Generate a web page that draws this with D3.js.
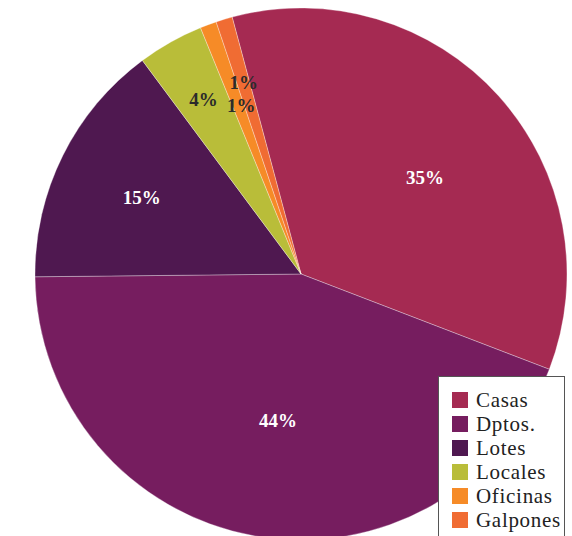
<!DOCTYPE html>
<html><head><meta charset="utf-8">
<script src="https://cdn.jsdelivr.net/npm/d3@7"></script>
<style>html,body{margin:0;padding:0;background:#fff;}svg{display:block;}</style>
</head><body>
<script>
const categories = ["Casas","Dptos.","Lotes","Locales","Oficinas","Galpones"];
const values = [35, 44, 15, 4, 1, 1];
const labels = ["35%","44%","15%","4%","1%","1%"];
const colors = ["#a52a52","#761d5f","#4f1850","#b9bd39","#f68b27","#f06c33"];
const labelColors = ["#fff","#fff","#fff","#2b2b2b","#2b2b2b","#2b2b2b"];

// layout (not data): label radius fraction and angle nudge (deg)
const labelLayout = [[0.59, 4.2],[0.557,-1.3],[0.664,-0.7],[0.752,0.2],[0.671,0.8],[0.752,0.2]];

const W = 572, H = 536, cx = 301, cy = 274, R = 266;
const svg = d3.select("body").append("svg").attr("width", W).attr("height", H);
const g = svg.append("g").attr("transform", `translate(${cx},${cy})`);

const start = -15 * Math.PI / 180;
const pie = d3.pie().sort(null).startAngle(start).endAngle(start + 2*Math.PI);
const arcs = pie(values);
const arc = d3.arc().innerRadius(0).outerRadius(R);

g.selectAll("path.slice").data(arcs).join("path")
  .attr("class","slice")
  .attr("d", arc)
  .attr("fill", (d,i) => colors[i])
  .attr("stroke", "rgba(255,255,255,0.45)")
  .attr("stroke-width", 0.7);

g.selectAll("text.lbl").data(arcs).join("text")
  .attr("class","lbl")
  .attr("x", (d,i) => { const a = (d.startAngle + d.endAngle)/2 + labelLayout[i][1]*Math.PI/180; return Math.sin(a) * R * labelLayout[i][0]; })
  .attr("y", (d,i) => { const a = (d.startAngle + d.endAngle)/2 + labelLayout[i][1]*Math.PI/180; return -Math.cos(a) * R * labelLayout[i][0]; })
  .attr("text-anchor","middle")
  .attr("dominant-baseline","central")
  .attr("font-family","'Liberation Serif', serif")
  .attr("font-weight","bold")
  .attr("font-size", 19)
  .attr("fill", (d,i) => labelColors[i])
  .text((d,i) => labels[i]);

// legend
const lg = svg.append("g");
lg.append("rect").attr("x", 438.5).attr("y", 376.5).attr("width", 126).attr("height", 170)
  .attr("fill","#fff").attr("stroke","#555").attr("stroke-width",1);
const items = lg.selectAll("g.item").data(categories).join("g").attr("class","item")
  .attr("transform", (d,i) => `translate(452,${392 + i*24})`);
items.append("rect").attr("width",16).attr("height",16).attr("fill",(d,i)=>colors[i]);
items.append("text").attr("x",24).attr("y",15)
  .attr("font-family","'Liberation Serif', serif").attr("font-size",21)
  .attr("letter-spacing", 0.7)
  .attr("fill","#222").text(d=>d);
</script>
</body></html>
